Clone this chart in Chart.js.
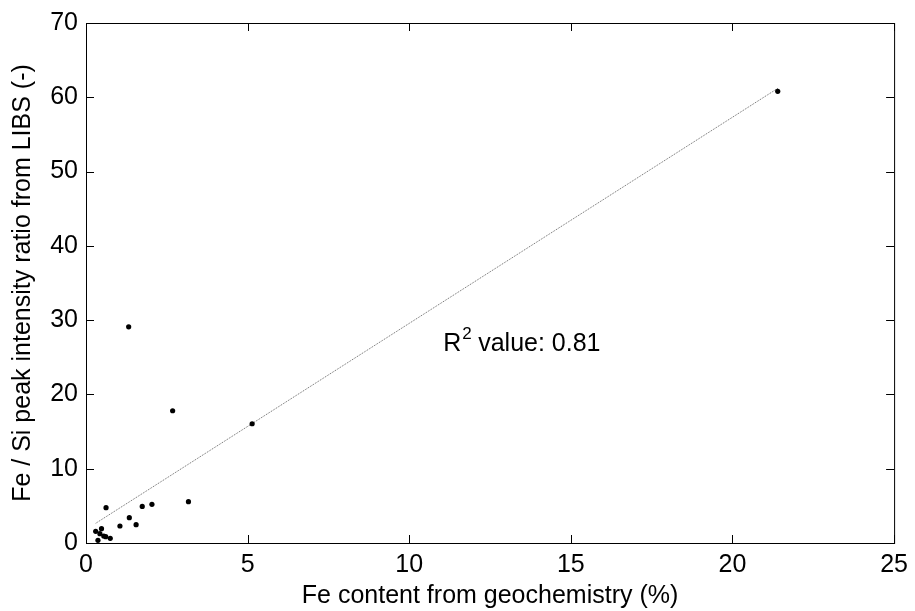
<!DOCTYPE html>
<html>
<head>
<meta charset="utf-8">
<script src="https://cdn.jsdelivr.net/npm/chart.js@4.4.0/dist/chart.umd.min.js"></script>
<style>
  html, body { margin: 0; padding: 0; background: #fff; }
  #wrap { width: 915px; height: 611px; }
</style>
</head>
<body>
<div id="wrap"><canvas id="chart" width="915" height="611"></canvas></div>
<script>
// samples: Fe (%) vs Fe/Si ratio
const feContent = [0.37, 0.30, 0.43, 0.48, 0.55, 0.61, 0.75, 0.62, 1.05, 1.34, 1.55, 1.32, 1.74, 2.04, 2.68, 3.17, 5.14, 21.4];
const feSiRatio = [0.36, 1.57, 1.26, 1.93, 0.94, 0.85, 0.63, 4.75, 2.29, 3.41, 2.47, 29.1, 4.93, 5.2, 17.8, 5.56, 16.05, 60.8];

// fitted line end points
const fitX = [0.3, 21.4];
const fitY = [2.65, 61.2];

const xTicks = [0, 5, 10, 15, 20, 25];
const yTicks = [0, 10, 20, 30, 40, 50, 60, 70];
const r2Text = "0.81";

const FONT = "'Liberation Sans', Arial, sans-serif";
const SIZE = 25;

const framePlugin = {
  id: "frame",
  afterDraw(chart) {
    const { ctx, chartArea: a, scales } = chart;
    ctx.save();
    ctx.strokeStyle = "#000";
    ctx.lineWidth = 1;
    ctx.strokeRect(a.left + 0.5, a.top + 0.5, a.right - a.left, a.bottom - a.top);
    const len = 8;
    ctx.beginPath();
    xTicks.forEach((v) => {
      const px = Math.round(scales.x.getPixelForValue(v)) + 0.5;
      ctx.moveTo(px, a.bottom);
      ctx.lineTo(px, a.bottom - len);
      ctx.moveTo(px, a.top);
      ctx.lineTo(px, a.top + len);
    });
    yTicks.forEach((v) => {
      const py = Math.round(scales.y.getPixelForValue(v)) + 0.5;
      ctx.moveTo(a.left, py);
      ctx.lineTo(a.left + len, py);
      ctx.moveTo(a.right, py);
      ctx.lineTo(a.right - len, py);
    });
    ctx.stroke();

    // R^2 annotation
    const tx = scales.x.getPixelForValue(11.05);
    const ty = scales.y.getPixelForValue(27.0);
    ctx.fillStyle = "#000";
    ctx.textBaseline = "alphabetic";
    ctx.font = SIZE + "px " + FONT;
    ctx.fillText("R", tx, ty + 9);
    const rw = ctx.measureText("R").width;
    ctx.font = "17px " + FONT;
    ctx.fillText("2", tx + rw + 1, ty - 3);
    ctx.font = SIZE + "px " + FONT;
    ctx.fillText(" value: " + r2Text, tx + rw + 10, ty + 9);
    ctx.restore();
  },
};

new Chart(document.getElementById("chart"), {
  type: "scatter",
  data: {
    datasets: [
      {
        data: feContent.map((x, i) => ({ x, y: feSiRatio[i] })),
        backgroundColor: "#000",
        borderColor: "#000",
        pointRadius: 2.6,
        pointBorderWidth: 0,
      },
      {
        type: "line",
        data: fitX.map((x, i) => ({ x, y: fitY[i] })),
        borderColor: "#666",
        borderWidth: 1,
        borderDash: [1, 1],
        pointRadius: 0,
        fill: false,
      },
    ],
  },
  options: {
    responsive: false,
    animation: false,
    layout: { padding: { top: 23, right: 16, left: 0, bottom: 0 } },
    plugins: { legend: { display: false }, tooltip: { enabled: false } },
    scales: {
      x: {
        type: "linear",
        min: 0,
        max: 25,
        afterFit: (s) => { s.height = 68; },
        afterBuildTicks: (s) => { s.ticks = xTicks.map((v) => ({ value: v })); },
        grid: { display: false, drawTicks: false },
        border: { display: false },
        ticks: { color: "#000", padding: 7, font: { family: FONT, size: SIZE } },
        title: {
          display: true,
          text: "Fe content from geochemistry (%)",
          color: "#000",
          font: { family: FONT, size: SIZE },
          padding: { top: 0, bottom: 0 },
        },
      },
      y: {
        type: "linear",
        min: 0,
        max: 70,
        afterFit: (s) => { s.width = 86; },
        afterBuildTicks: (s) => { s.ticks = yTicks.map((v) => ({ value: v })); },
        grid: { display: false, drawTicks: false },
        border: { display: false },
        ticks: { color: "#000", padding: 8, font: { family: FONT, size: SIZE } },
        title: {
          display: true,
          text: "Fe / Si peak intensity ratio from LIBS (-)",
          color: "#000",
          font: { family: FONT, size: SIZE },
          padding: { top: 8, bottom: 0 },
        },
      },
    },
  },
  plugins: [framePlugin],
});
</script>
</body>
</html>
